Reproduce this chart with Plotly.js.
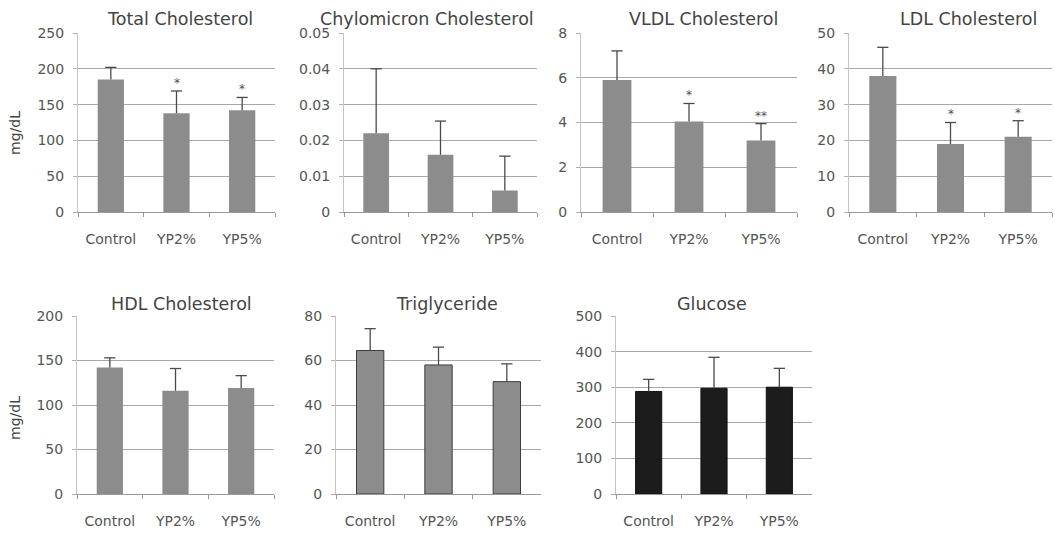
<!DOCTYPE html>
<html>
<head>
<meta charset="utf-8">
<script src="https://cdn.plot.ly/plotly-3.0.1.min.js"></script>
<style>html,body{margin:0;padding:0;background:#fff;}#chart{width:1055px;height:535px;}</style>
</head>
<body>
<div id="chart"></div>
<script>
// ---- data ----
var categories = ['Control', 'YP2%', 'YP5%'];

var tcMean = [185, 138, 142];
var tcErr = [17, 31, 18];
var tcSig = ['', '*', '*'];

var chyloMean = [0.022, 0.016, 0.006];
var chyloErr = [0.018, 0.0094, 0.0096];
var chyloSig = ['', '', ''];

var vldlMean = [5.9, 4.05, 3.2];
var vldlErr = [1.3, 0.8, 0.75];
var vldlSig = ['', '*', '**'];

var ldlMean = [38, 19, 21];
var ldlErr = [8, 6, 4.5];
var ldlSig = ['', '*', '*'];

var hdlMean = [142, 116, 119];
var hdlErr = [11, 25, 14];
var hdlSig = ['', '', ''];

var trigMean = [64.5, 58, 50.5];
var trigErr = [9.8, 8, 8];
var trigSig = ['', '', ''];

var gluMean = [288, 297, 300];
var gluErr = [34, 87, 53];
var gluSig = ['', '', ''];

var panelTitles = ['Total Cholesterol', 'Chylomicron Cholesterol', 'VLDL Cholesterol', 'LDL Cholesterol',
                   'HDL Cholesterol', 'Triglyceride', 'Glucose'];
var yUnit = 'mg/dL';

// ---- layout helpers ----
var W = 1055, H = 535;
function fx(px) { return px / W; }
function fy(px) { return 1 - px / H; }

var FONT = 'DejaVu Sans, Liberation Sans, Arial, sans-serif';
var ERRC = '#4a4a4a';
var panels = [
  {mean: tcMean, err: tcErr, sig: tcSig, title: panelTitles[0], x0: 78, x1: 275, top: 33, bot: 212, range: [0, 250], dtick: 50, color: '#8c8c8c', line: 'rgba(0,0,0,0)', tx: 180, ty: 19},
  {mean: chyloMean, err: chyloErr, sig: chyloSig, title: panelTitles[1], x0: 344, x1: 537, top: 33, bot: 212, range: [0, 0.05], dtick: 0.01, color: '#8c8c8c', line: 'rgba(0,0,0,0)', tx: 427, ty: 19},
  {mean: vldlMean, err: vldlErr, sig: vldlSig, title: panelTitles[2], x0: 581, x1: 797, top: 33, bot: 212, range: [0, 8], dtick: 2, color: '#8c8c8c', line: 'rgba(0,0,0,0)', tx: 703, ty: 19},
  {mean: ldlMean, err: ldlErr, sig: ldlSig, title: panelTitles[3], x0: 849, x1: 1052, top: 33, bot: 212, range: [0, 50], dtick: 10, color: '#8c8c8c', line: 'rgba(0,0,0,0)', tx: 968, ty: 19},
  {mean: hdlMean, err: hdlErr, sig: hdlSig, title: panelTitles[4], x0: 77, x1: 274, top: 316, bot: 494, range: [0, 200], dtick: 50, color: '#8c8c8c', line: 'rgba(0,0,0,0)', tx: 181, ty: 304},
  {mean: trigMean, err: trigErr, sig: trigSig, title: panelTitles[5], x0: 336, x1: 541, top: 316, bot: 494, range: [0, 80], dtick: 20, color: '#8c8c8c', line: '#3c3c3c', tx: 447, ty: 304},
  {mean: gluMean, err: gluErr, sig: gluSig, title: panelTitles[6], x0: 616, x1: 812, top: 316, bot: 494, range: [0, 500], dtick: 100, color: '#1c1c1c', line: '#111111', tx: 712, ty: 304}
];

var data = [];
var layout = {
  width: W, height: H, autosize: false,
  margin: {l: 0, r: 0, t: 0, b: 0},
  paper_bgcolor: '#ffffff', plot_bgcolor: 'rgba(0,0,0,0)',
  showlegend: false,
  barmode: 'overlay',
  font: {family: FONT, color: '#555555', size: 14},
  annotations: []
};

panels.forEach(function (p, i) {
  var n = i + 1;
  var xa = 'x' + (n === 1 ? '' : n), ya = 'y' + (n === 1 ? '' : n);
  var xk = 'xaxis' + (n === 1 ? '' : n), yk = 'yaxis' + (n === 1 ? '' : n);
  // bars
  data.push({
    type: 'bar', x: categories, y: p.mean, xaxis: xa, yaxis: ya, width: 0.4,
    marker: {color: p.color, line: {color: p.line, width: 1}},
    hoverinfo: 'none'
  });
  // upper-only error bars: stems from bar top to mean+err
  var sx = [], sy = [];
  categories.forEach(function (c, k) {
    sx.push(c, c, null);
    sy.push(p.mean[k], p.mean[k] + p.err[k], null);
  });
  data.push({
    type: 'scatter', mode: 'lines', x: sx, y: sy, xaxis: xa, yaxis: ya,
    line: {color: ERRC, width: 1.3}, connectgaps: false, hoverinfo: 'none'
  });
  // caps
  data.push({
    type: 'scatter', mode: 'markers', x: categories,
    y: p.mean.map(function (m, k) { return m + p.err[k]; }), xaxis: xa, yaxis: ya,
    marker: {symbol: 'line-ew', size: 8, line: {color: ERRC, width: 1.3}}, hoverinfo: 'none'
  });
  layout[xk] = {
    domain: [fx(p.x0), fx(p.x1)], anchor: ya,
    type: 'category', range: [-0.5, 2.5],
    showline: true, linecolor: '#9a9a9a', linewidth: 1,
    showgrid: false, zeroline: false,
    ticks: 'outside', tickson: 'boundaries', ticklen: 4, tickcolor: '#9a9a9a',
    ticklabelstandoff: 14,
    tickfont: {family: FONT, size: 14, color: '#555555'},
    fixedrange: true
  };
  layout[yk] = {
    domain: [fy(p.bot), fy(p.top)], anchor: xa,
    range: p.range, dtick: p.dtick, tick0: 0,
    showline: true, linecolor: '#c4c4c4', linewidth: 1,
    showgrid: true, gridcolor: '#a8a8a8', gridwidth: 1,
    zeroline: false,
    ticks: 'outside', ticklen: 4, tickcolor: '#b0b0b0',
    ticklabelstandoff: 6,
    tickfont: {family: FONT, size: 14, color: '#555555'},
    fixedrange: true
  };
  // panel title
  layout.annotations.push({
    xref: 'paper', yref: 'paper', x: fx(p.tx), y: fy(p.ty), xanchor: 'center', yanchor: 'middle',
    text: p.title, showarrow: false, font: {family: FONT, size: 17.5, color: '#444444'}
  });
  // significance marks
  p.sig.forEach(function (s, k) {
    if (!s) return;
    layout.annotations.push({
      xref: xa, yref: ya, x: categories[k], y: p.mean[k] + p.err[k],
      xanchor: 'center', yanchor: 'bottom', yshift: -1,
      text: s, showarrow: false, font: {family: FONT, size: 12, color: '#505050'}
    });
  });
});

// y-axis unit labels (left column)
[[15, 133], [15, 418]].forEach(function (pos) {
  layout.annotations.push({
    xref: 'paper', yref: 'paper', x: fx(pos[0]), y: fy(pos[1]), xanchor: 'center', yanchor: 'middle',
    text: yUnit, textangle: -90, showarrow: false, font: {family: FONT, size: 14, color: '#444444'}
  });
});

Plotly.newPlot('chart', data, layout, {displayModeBar: false, staticPlot: true});
</script>
</body>
</html>
